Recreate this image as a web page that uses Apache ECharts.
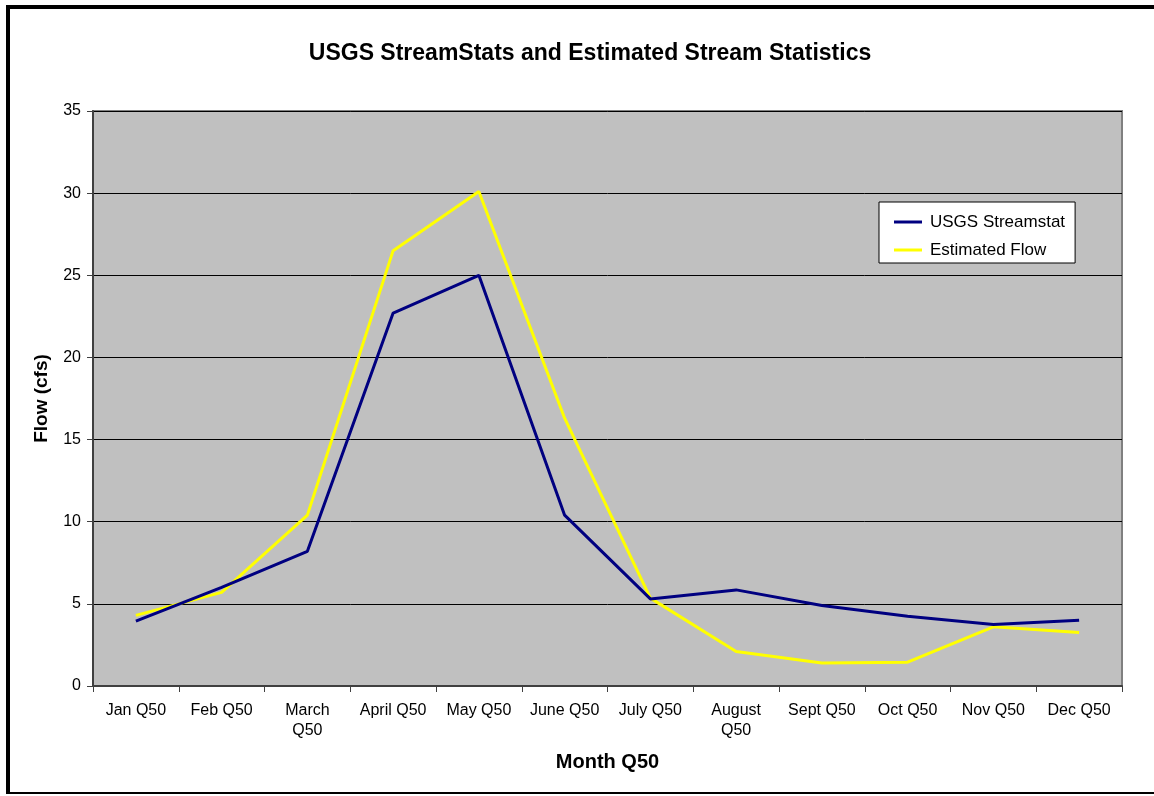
<!DOCTYPE html>
<html>
<head>
<meta charset="utf-8">
<title>USGS StreamStats</title>
<script src="https://cdn.jsdelivr.net/npm/echarts@6/dist/echarts.min.js"></script>
<style>
  html, body { margin: 0; padding: 0; background: #fff; }
  #main { width: 1154px; height: 796px; }
</style>
</head>
<body>
<div id="main"></div>
<script>
// data
var months = ['Jan Q50', 'Feb Q50', 'March\nQ50', 'April Q50', 'May Q50', 'June Q50',
    'July Q50', 'August\nQ50', 'Sept Q50', 'Oct Q50', 'Nov Q50', 'Dec Q50'];
var usgsStreamstat = [3.95, 6.0, 8.2, 22.7, 25.0, 10.4, 5.3, 5.85, 4.9, 4.25, 3.75, 4.0];
var estimatedFlow = [4.3, 5.7, 10.4, 26.5, 30.1, 16.3, 5.35, 2.1, 1.4, 1.45, 3.6, 3.25];
var seriesNames = ['USGS Streamstat', 'Estimated Flow'];

var font = 'Arial, "Liberation Sans", sans-serif';
var myChart = echarts.init(document.getElementById('main'));

var option = {
    animation: false,
    backgroundColor: '#fff',
    title: {
        text: 'USGS StreamStats and Estimated Stream Statistics',
        left: 585,
        textAlign: 'center',
        top: 37,
        textStyle: {fontFamily: font, fontSize: 23, fontWeight: 'bold', color: '#000'}
    },
    legend: {
        data: seriesNames,
        orient: 'vertical',
        left: 879,
        top: 202,
        padding: [11, 10, 4, 15],
        itemGap: 10,
        itemWidth: 28,
        itemHeight: 3,
        icon: 'rect',
        backgroundColor: '#fff',
        borderColor: '#000',
        borderWidth: 1,
        borderRadius: 0,
        textStyle: {fontFamily: font, fontSize: 17, color: '#000', lineHeight: 18, padding: [0, 0, 0, 3]}
    },
    grid: {
        left: 93,
        right: 32,
        top: 111,
        bottom: 110,
        show: true,
        backgroundColor: '#C0C0C0',
        borderColor: '#808080',
        borderWidth: 2
    },
    xAxis: {
        type: 'category',
        data: months,
        boundaryGap: true,
        name: 'Month Q50',
        nameLocation: 'middle',
        nameGap: 66,
        nameTextStyle: {fontFamily: font, fontSize: 20, fontWeight: 'bold', color: '#000'},
        axisLine: {lineStyle: {color: '#404040', width: 2}},
        axisTick: {show: true, alignWithLabel: false, length: 6, lineStyle: {color: '#404040'}},
        axisLabel: {
            interval: 0,
            fontFamily: font,
            fontSize: 16,
            color: '#000',
            margin: 15,
            lineHeight: 20
        }
    },
    yAxis: {
        type: 'value',
        min: 0,
        max: 35,
        interval: 5,
        name: 'Flow (cfs)',
        nameLocation: 'middle',
        nameGap: 42,
        nameTextStyle: {fontFamily: font, fontSize: 19, fontWeight: 'bold', color: '#000'},
        axisLine: {show: true, lineStyle: {color: '#404040', width: 2}},
        axisTick: {show: true, length: 6, lineStyle: {color: '#404040'}},
        axisLabel: {fontFamily: font, fontSize: 16, color: '#000', margin: 12},
        splitLine: {show: true, lineStyle: {color: '#000', width: 1}}
    },
    series: [{
        name: seriesNames[0],
        type: 'line',
        data: usgsStreamstat,
        symbol: 'none',
        color: '#000080',
        lineStyle: {width: 3, color: '#000080'},
        z: 3
    }, {
        name: seriesNames[1],
        type: 'line',
        data: estimatedFlow,
        symbol: 'none',
        color: '#FFFF00',
        lineStyle: {width: 3, color: '#FFFF00'},
        z: 2
    }],
    graphic: [
        // outer frame of the figure
        {type: 'line', shape: {x1: 6, y1: 7, x2: 1154, y2: 7}, style: {stroke: '#000', lineWidth: 4}},
        {type: 'line', shape: {x1: 8, y1: 5, x2: 8, y2: 794}, style: {stroke: '#000', lineWidth: 4}},
        {type: 'line', shape: {x1: 6, y1: 793, x2: 1154, y2: 793}, style: {stroke: '#000', lineWidth: 2}}
    ]
};
myChart.setOption(option);
</script>
</body>
</html>
